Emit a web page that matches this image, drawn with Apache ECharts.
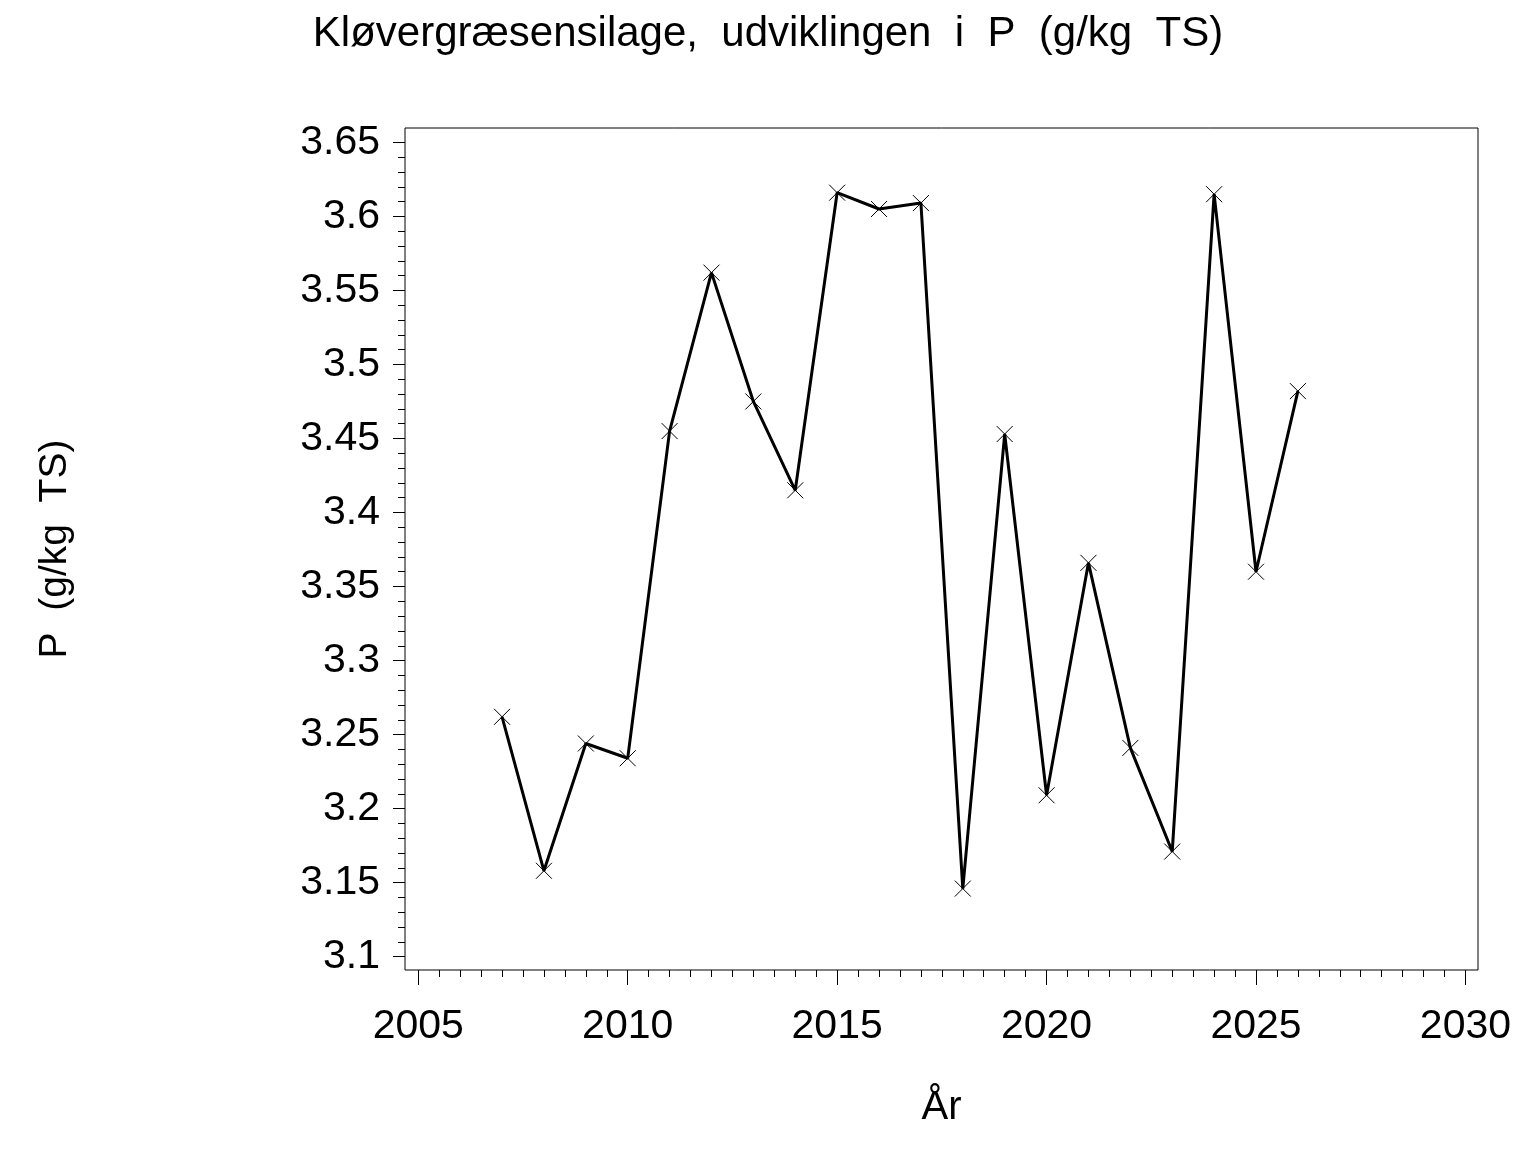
<!DOCTYPE html>
<html>
<head>
<meta charset="utf-8">
<script src="https://cdn.jsdelivr.net/npm/echarts@6/dist/echarts.min.js"></script>
<style>
  html, body { margin: 0; padding: 0; background: #fff; }
  #main { width: 1536px; height: 1152px; }
</style>
</head>
<body>
<div id="main"></div>
<script>
// P-indhold i kløvergræsensilage pr. år
var years = [2007, 2008, 2009, 2010, 2011, 2012, 2013, 2014, 2015, 2016,
             2017, 2018, 2019, 2020, 2021, 2022, 2023, 2024, 2025, 2026];
var pValues = [3.262, 3.158, 3.244, 3.234, 3.455, 3.562, 3.475, 3.415, 3.616, 3.605,
               3.609, 3.146, 3.453, 3.209, 3.366, 3.241, 3.171, 3.615, 3.360, 3.482];

var xTicks = [2005, 2010, 2015, 2020, 2025, 2030];
var yTicks = [3.1, 3.15, 3.2, 3.25, 3.3, 3.35, 3.4, 3.45, 3.5, 3.55, 3.6, 3.65];

var titleText = 'Kløvergræsensilage,  udviklingen  i  P  (g/kg  TS)';
var yName = 'P  (g/kg  TS)';
var xName = 'År';

// minor ticks between the major ones
function minorTicks(ticks, n) {
  var out = [];
  for (var i = 0; i < ticks.length - 1; i++) {
    var step = (ticks[i + 1] - ticks[i]) / n;
    for (var j = 1; j < n; j++) {
      out.push(Math.round((ticks[i] + step * j) * 1000) / 1000);
    }
  }
  return out;
}

var font = 'Liberation Sans, Arial, sans-serif';
var xMin = 2004.683, xMax = 2030.30;
var yMin = 3.091, yMax = 3.6597;

var chart = echarts.init(document.getElementById('main'), null, { renderer: 'canvas' });

var seriesData = years.map(function (y, i) { return [y, pValues[i]]; });

chart.setOption({
  animation: false,
  backgroundColor: '#fff',
  title: {
    text: titleText,
    left: 'center',
    top: 8,
    textStyle: { fontFamily: font, fontSize: 42, fontWeight: 'normal', color: '#000' }
  },
  grid: {
    left: 405, right: 58, top: 128, bottom: 182,
    show: true, borderColor: '#000', borderWidth: 1, backgroundColor: 'transparent'
  },
  xAxis: [
    {
      type: 'value', min: xMin, max: xMax,
      name: xName, nameLocation: 'middle', nameGap: 118,
      nameTextStyle: { fontFamily: font, fontSize: 40, color: '#000' },
      axisLine: { show: false },
      splitLine: { show: false },
      axisTick: { show: true, length: 15, customValues: xTicks, lineStyle: { color: '#000', width: 1 } },
      axisLabel: {
        customValues: xTicks, margin: 36, fontFamily: font, fontSize: 41, color: '#000',
        formatter: function (v) { return String(v); }
      }
    },
    {
      type: 'value', min: xMin, max: xMax, position: 'bottom',
      axisLine: { show: false },
      splitLine: { show: false },
      axisLabel: { show: false },
      axisTick: { show: true, length: 7, customValues: minorTicks(xTicks, 10), lineStyle: { color: '#000', width: 1 } }
    }
  ],
  yAxis: [
    {
      type: 'value', min: yMin, max: yMax,
      name: yName, nameLocation: 'middle', nameGap: 330, nameRotate: 90,
      nameTextStyle: { fontFamily: font, fontSize: 39, color: '#000' },
      axisLine: { show: false },
      splitLine: { show: false },
      axisTick: { show: true, length: 12, customValues: yTicks, lineStyle: { color: '#000', width: 1 } },
      axisLabel: {
        customValues: yTicks, margin: 25, fontFamily: font, fontSize: 41, color: '#000',
        formatter: function (v) { return String(v); }
      }
    },
    {
      type: 'value', min: yMin, max: yMax, position: 'left',
      axisLine: { show: false },
      splitLine: { show: false },
      axisLabel: { show: false },
      axisTick: { show: true, length: 7, customValues: minorTicks(yTicks, 5), lineStyle: { color: '#000', width: 1 } }
    }
  ],
  series: [
    {
      type: 'line',
      xAxisIndex: 0,
      yAxisIndex: 0,
      data: seriesData,
      symbol: 'path://M0,0L10,10M10,0L0,10',
      symbolSize: 16,
      showAllSymbol: true,
      lineStyle: { color: '#000', width: 3 },
      itemStyle: { color: 'transparent', borderColor: '#000', borderWidth: 1 },
      z: 3
    }
  ]
});
</script>
</body>
</html>
